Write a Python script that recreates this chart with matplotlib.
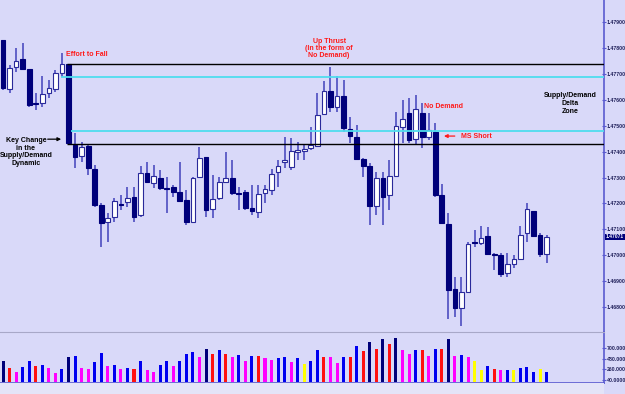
import matplotlib.pyplot as plt
import matplotlib.transforms as mtransforms
from matplotlib import font_manager
import numpy as np

# 15 min candles, 19:15 (Oct.08) -> 16:00 (Oct.09)
opens = [1.47831, 1.47641, 1.47726, 1.47757, 1.47719, 1.47587, 1.47587, 1.47626, 1.47641, 1.47703,
         1.47738, 1.47425, 1.47383, 1.47421, 1.47333, 1.47194, 1.47128, 1.47147, 1.47198, 1.47205,
         1.47225, 1.47155, 1.47317, 1.47279, 1.47298, 1.47259, 1.47263, 1.47244, 1.47213, 1.47128,
         1.47302, 1.47379, 1.47178, 1.47221, 1.47283, 1.47298, 1.47240, 1.47244, 1.47182, 1.47167,
         1.47240, 1.47252, 1.47321, 1.47360, 1.47340, 1.47398, 1.47402, 1.47414, 1.47421, 1.47545,
         1.47634, 1.47572, 1.47614, 1.47487, 1.47456, 1.47371, 1.47344, 1.47190, 1.47298, 1.47232,
         1.47306, 1.47495, 1.47549, 1.47448, 1.47549, 1.47456, 1.47475, 1.47232, 1.47120, 1.46869,
         1.46796, 1.46858, 1.47051, 1.47047, 1.47074, 1.47005, 1.47001, 1.46931, 1.46966, 1.46985,
         1.47086, 1.47170, 1.47078, 1.47005]
highs = [1.47831, 1.47734, 1.47800, 1.47819, 1.47719, 1.47626, 1.47692, 1.47676, 1.47715, 1.47780,
         1.47738, 1.47472, 1.47437, 1.47425, 1.47348, 1.47201, 1.47163, 1.47221, 1.47232, 1.47263,
         1.47263, 1.47344, 1.47360, 1.47348, 1.47329, 1.47302, 1.47271, 1.47360, 1.47252, 1.47302,
         1.47418, 1.47379, 1.47310, 1.47302, 1.47398, 1.47367, 1.47263, 1.47252, 1.47271, 1.47271,
         1.47271, 1.47333, 1.47367, 1.47456, 1.47452, 1.47437, 1.47425, 1.47495, 1.47626, 1.47672,
         1.47726, 1.47692, 1.47676, 1.47533, 1.47503, 1.47375, 1.47356, 1.47321, 1.47321, 1.47367,
         1.47553, 1.47599, 1.47607, 1.47618, 1.47587, 1.47549, 1.47510, 1.47275, 1.47163, 1.46916,
         1.46916, 1.47051, 1.47097, 1.47113, 1.47109, 1.47008, 1.47008, 1.47008, 1.47001, 1.47113,
         1.47201, 1.47170, 1.47086, 1.47078]
lows = [1.47638, 1.47626, 1.47707, 1.47715, 1.47572, 1.47560, 1.47572, 1.47607, 1.47630, 1.47688,
        1.47429, 1.47337, 1.47360, 1.47310, 1.47186, 1.47032, 1.47051, 1.47128, 1.47174, 1.47186,
        1.47128, 1.47147, 1.47279, 1.47259, 1.47252, 1.47163, 1.47225, 1.47205, 1.47117, 1.47124,
        1.47298, 1.47147, 1.47143, 1.47213, 1.47279, 1.47232, 1.47174, 1.47174, 1.47155, 1.47143,
        1.47201, 1.47232, 1.47263, 1.47337, 1.47329, 1.47367, 1.47367, 1.47406, 1.47421, 1.47541,
        1.47553, 1.47553, 1.47475, 1.47433, 1.47367, 1.47302, 1.47117, 1.47155, 1.47117, 1.47174,
        1.47302, 1.47433, 1.47433, 1.47425, 1.47414, 1.47445, 1.47225, 1.47124, 1.46754, 1.46761,
        1.46727, 1.46854, 1.47032, 1.47039, 1.47001, 1.46943, 1.46916, 1.46916, 1.46951, 1.46981,
        1.47051, 1.47070, 1.46993, 1.46970]
closes = [1.47645, 1.47722, 1.47750, 1.47719, 1.47580, 1.47583, 1.47622, 1.47645, 1.47703, 1.47738,
          1.47433, 1.47379, 1.47418, 1.47337, 1.47194, 1.47124, 1.47143, 1.47209, 1.47194, 1.47221,
          1.47147, 1.47317, 1.47283, 1.47306, 1.47259, 1.47255, 1.47244, 1.47209, 1.47128, 1.47298,
          1.47375, 1.47174, 1.47217, 1.47283, 1.47298, 1.47240, 1.47236, 1.47182, 1.47170, 1.47236,
          1.47255, 1.47313, 1.47344, 1.47367, 1.47402, 1.47406, 1.47410, 1.47425, 1.47541, 1.47634,
          1.47572, 1.47614, 1.47491, 1.47460, 1.47371, 1.47344, 1.47190, 1.47298, 1.47225, 1.47306,
          1.47499, 1.47526, 1.47445, 1.47564, 1.47456, 1.47483, 1.47232, 1.47124, 1.46866, 1.46796,
          1.46858, 1.47043, 1.47047, 1.47066, 1.47005, 1.47001, 1.46927, 1.46966, 1.46985, 1.47078,
          1.47178, 1.47074, 1.47005, 1.47071]
volume = [437, 291, 215, 305, 444, 326, 360, 291, 187, 270,
          513, 541, 291, 270, 409, 603, 333, 354, 270, 291,
          270, 437, 250, 208, 360, 430, 340, 430, 582, 624,
          527, 686, 582, 666, 582, 513, 562, 430, 541, 541,
          499, 458, 492, 520, 409, 499, 374, 430, 659, 527,
          513, 402, 527, 520, 749, 645, 825, 686, 894, 797,
          908, 666, 582, 659, 659, 541, 686, 680, 887, 548,
          562, 520, 437, 250, 333, 270, 257, 257, 243, 291,
          312, 215, 270, 201]
# volume bar class: n=navy, b=blue, r=red, m=magenta, y=yellow
vol_class = list("nrmbbrbmmb" "nbmmbbmbmb" "rbmmbbmbbb" "mnrbrmbmbr"
                 "mmbbmbybbr" "mmbrbrnrnr" "nmmbrmbrnm" "bmyybrmbyb" "bbyby")

tick_pos = [3, 9, 15, 19, 23, 29, 35, 41, 47, 53, 59, 65, 71, 77, 83]
tick_txt = ['20:00', '21:30', '23:00', 'Oct.09', '1:00', '2:30', '4:00', '5:30',
            '7:00', '8:30', '10:00', '11:30', '13:00', '14:30', '16:00']

black_levels = [1.47738, 1.47428]
cyan_levels = [1.47689, 1.47481]

vol_colors = {'n': '#00007A', 'b': '#0000F0', 'r': '#FF1010', 'm': '#FF00FF', 'y': '#FFFF00'}
bg = '#D9D9F9'
axis_col = '#5A5ACF'

# narrow face for the price scale if it is there
names = {f.name for f in font_manager.fontManager.ttflist}
if 'Liberation Sans Narrow' in names:
    tick_font, ysize = 'Liberation Sans Narrow', 4.5
else:
    tick_font, ysize = 'Liberation Sans', 3.7

fig = plt.figure(figsize=(6.25, 3.94), dpi=100, facecolor=bg)
ax_p = fig.add_axes([0, (394 - 332) / 394, 604 / 625, 332 / 394])
ax_v = fig.add_axes([0, 11 / 394, 604 / 625, 51 / 394], sharex=ax_p)
# lighter strip under the time axis
fig.patches.append(plt.Rectangle((0, 0), 604 / 625, 11 / 394, transform=fig.transFigure,
                                 facecolor='#E4E4F8', edgecolor='none', zorder=0))

for ax in (ax_p, ax_v):
    ax.set_facecolor(bg)
    for s in ('left', 'top', 'bottom'):
        ax.spines[s].set_visible(False)
    ax.spines['right'].set_color(axis_col)
    ax.spines['right'].set_linewidth(1.2)

x = np.arange(len(opens))
o = np.array(opens)
c = np.array(closes)
up = c >= o

# wicks
ax_p.vlines(x, lows, highs, color='#5858C4', linewidth=1.3, zorder=2)
# bodies
bottoms = np.minimum(o, c)
heights = np.maximum(np.abs(c - o), 0.00005)
ax_p.bar(x[up], heights[up], bottom=bottoms[up], width=0.72, color='white',
         edgecolor='#2A2A9A', linewidth=0.8, zorder=3)
ax_p.bar(x[~up], heights[~up], bottom=bottoms[~up], width=0.72, color='#00007A',
         edgecolor='#00007A', linewidth=0.8, zorder=3)

# zone lines
ax_p.hlines(black_levels, [9.7, 9.7], 95, color='black', linewidth=1.0, zorder=4)
ax_p.hlines(cyan_levels, [8.9, 10.4], 95, color='#4FDDEE', linewidth=1.3, zorder=4)

ax_p.set_xlim(-0.46, 91.76)
ax_p.set_ylim(1.46704, 1.47985)

ax_p.yaxis.tick_right()
yt = np.round(np.arange(1.468, 1.4791, 0.001), 3)
ax_p.set_yticks(yt)
ax_p.set_yticklabels(['%.5f' % v for v in yt], family=tick_font, fontweight='bold')
ax_p.tick_params(axis='y', direction='inout', length=3, color=axis_col,
                 labelsize=ysize, labelcolor='#20205A', pad=0.5)
ax_p.tick_params(axis='x', bottom=False, labelbottom=False)

# current price box
trans = mtransforms.blended_transform_factory(ax_p.transAxes, ax_p.transData)
ax_p.text(1.003, closes[-1], '%.5f' % closes[-1], transform=trans, ha='left', va='center',
          fontsize=ysize - 0.1, color='white', fontweight='bold', family=tick_font,
          bbox=dict(boxstyle='square,pad=0.12', facecolor='#00007A', edgecolor='none'))

red = '#FF1A1A'
fk = dict(fontsize=5, fontweight='bold', family='Liberation Sans')
ax_p.text(9.57, 1.47773, 'Effort to Fall', color=red, ha='left', va='center', **fk)
ax_p.text(49.8, 1.47798, 'Up Thrust\n(In the form of\nNo Demand)', color=red,
          ha='center', va='center', linespacing=1.05, **fk)
ax_p.text(67.3, 1.47576, 'No Demand', color=red, ha='center', va='center', **fk)
ax_p.text(69.9, 1.47460, 'MS Short', color=red, ha='left', va='center', **fk)
ax_p.annotate('', xy=(66.9, 1.47460), xytext=(69.4, 1.47460),
              arrowprops=dict(arrowstyle='-|>', color=red, lw=0.9, mutation_scale=5))
ax_p.text(86.6, 1.47586, 'Supply/Demand\nDelta\nZone', color='black',
          ha='center', va='center', linespacing=1.15, **fk)
ax_p.text(3.5, 1.47399, 'Key Change\nin the\nSupply/Demand\nDynamic', color='black',
          ha='center', va='center', linespacing=1.15, **fk)
ax_p.annotate('', xy=(9.3, 1.47448), xytext=(6.4, 1.47448),
              arrowprops=dict(arrowstyle='-|>', color='black', lw=0.9, mutation_scale=5))

# volume panel
ax_v.bar(x, volume, width=0.46, color=[vol_colors[k] for k in vol_class],
         edgecolor='none')
ax_v.set_ylim(-21, 1040)
ax_v.spines['top'].set_visible(True)
ax_v.spines['top'].set_color('#A8A8C8')
ax_v.spines['bottom'].set_visible(True)
ax_v.spines['bottom'].set_color(axis_col)
ax_v.spines['bottom'].set_linewidth(1.2)
ax_v.yaxis.tick_right()
ax_v.set_yticks([40, 260, 480, 700])
ax_v.set_yticklabels(['40.0000', '260.000', '480.000', '700.000'], family=tick_font,
                     fontweight='bold')
ax_v.tick_params(axis='y', direction='inout', length=3, color=axis_col,
                 labelsize=ysize, labelcolor='#20205A', pad=0.5)
ax_v.set_xticks(tick_pos)
ax_v.set_xticklabels(tick_txt, family='Liberation Sans', fontweight='bold')
ax_v.tick_params(axis='x', direction='out', length=2, color=axis_col, labelsize=4.6,
                 labelcolor='#000066', pad=1)

fig.savefig('out.png', dpi=100, facecolor=bg)
